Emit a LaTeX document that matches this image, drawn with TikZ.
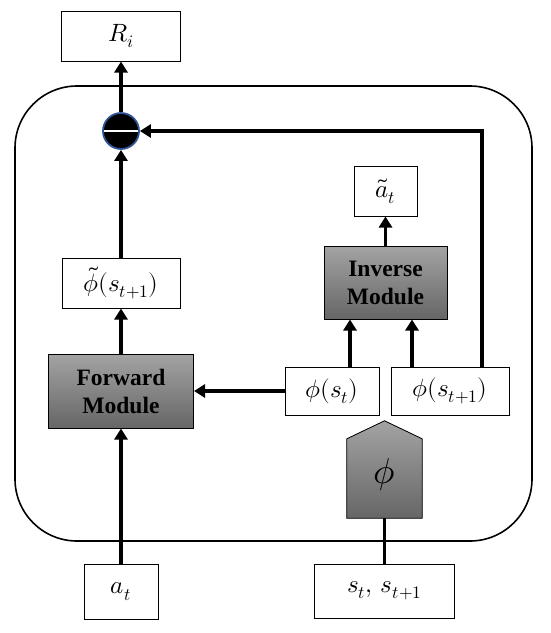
\documentclass[tikz,border=0pt]{standalone}
\usepackage{fontspec}
\usepackage{unicode-math}
\setmainfont{Liberation Serif}
\setmathfont{Latin Modern Math}
\usetikzlibrary{arrows.meta,calc}
\definecolor{ringblue}{HTML}{2F5597}
\newcommand{\mbig}[1]{{\fontsize{25}{28}\selectfont$#1$}}
\tikzset{
  box/.style={draw=black,line width=1pt,fill=white,inner sep=0pt},
  module/.style={draw=black,line width=1pt,inner sep=0pt,top color=black!36,bottom color=black!60,
    font=\fontsize{23.5}{28}\selectfont\bfseries,align=center,text=black},
  arr/.style={line width=3.5pt,-{Triangle[width=13pt,length=11pt]}},
  link/.style={line width=3.5pt},
}
\begin{document}
\begin{tikzpicture}[x=1pt,y=-1pt]
\useasboundingbox (0,0) rectangle (550,633);
% outer rounded frame
\draw[line width=1.6pt,rounded corners=62pt] (15,86) rectangle (532,541);
% nodes
\node[box,minimum width=119pt,minimum height=50pt] (R) at (121,36) {\mbig{R_i}};
\node[box,minimum width=118pt,minimum height=50pt] (tphi) at (121,283) {\mbig{\tilde{\phi}(s_{t+1})}};
\node[module,minimum width=145pt,minimum height=74pt] (fwd) at (121,391) {Forward\\Module};
\node[module,minimum width=123pt,minimum height=73pt] (inv) at (385.5,282.5) {Inverse\\Module};
\node[box,minimum width=63pt,minimum height=50pt] (ta) at (385.5,191) {\mbig{\tilde{a}_t}};
\node[box,minimum width=94pt,minimum height=48pt] (ps) at (332,391) {\mbig{\phi(s_t)}};
\node[box,minimum width=118pt,minimum height=48pt] (ps1) at (450,391) {\mbig{\phi(s_{t+1})}};
\node[box,minimum width=140pt,minimum height=54pt] (s) at (384.5,591) {\mbig{s_t,\, s_{t+1}}};
\node[box,minimum width=74pt,minimum height=55pt] (a) at (121,591.5) {\mbig{a_t}};
% phi pentagon
\node[inner sep=0pt,minimum width=75pt,minimum height=97pt] (phi) at (384.5,469.5) {};
\fill[top color=black!36,bottom color=black!60,draw=black,line width=0.8pt]
  (phi.south west) -- ($(phi.north west)+(0,18)$) -- (phi.north) -- ($(phi.north east)+(0,18)$) -- (phi.south east) -- cycle;
\node (phitext) at ($(phi.center)+(0,5)$) {{\fontsize{36}{38}\selectfont$\phi$}};
% subtraction circle
\node[circle,draw=ringblue,line width=1.8pt,fill=black,minimum size=36pt,inner sep=0pt] (c) at (121,131) {};
\draw[white,line width=2.2pt] ($(c.center)+(-17,0)$) -- ($(c.center)+(17,0)$);
% connectors
\draw[arr] (a) -- (fwd);
\draw[arr] (fwd) -- (tphi);
\draw[arr] (tphi) -- (c);
\draw[arr] (c) -- (R);
\draw[arr] (ps) -- (fwd);
\draw[arr] ([xshift=18pt]ps.north) -- ([xshift=18pt]ps.north |- inv.south);
\draw[arr] ([xshift=-38pt]ps1.north) -- ([xshift=-38pt]ps1.north |- inv.south);
\draw[arr] (inv) -- (ta);
\draw[arr] ([xshift=32pt]ps1.north) |- (c.east);
\draw[link] (s.north) -- (phi.south);
\end{tikzpicture}
\end{document}
